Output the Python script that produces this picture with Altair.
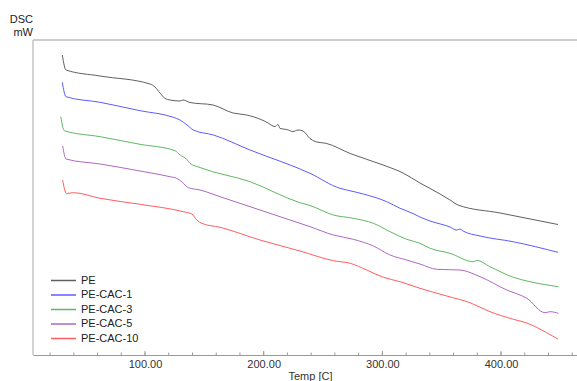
import altair as alt
import pandas as pd

# ---- data (Temp in C, DSC signal in arbitrary mW units) ----
series_names = ["PE", "PE-CAC-1", "PE-CAC-3", "PE-CAC-5", "PE-CAC-10"]
series_colors = ["#606060", "#5c5cff", "#60b860", "#b068c4", "#ff5e5e"]

pe_temp = [30.3, 33.4, 62.1, 104.2, 108.4, 112.6, 116.9, 121.1, 129.5, 132.0, 137.9, 157.3,
           174.2, 185.7, 198.6, 203.7, 206.2, 209.5, 212.1, 213.8, 219.4, 224.7, 228.9, 233.1,
           239.0, 243.3, 253.1, 272.9, 300.6, 317.4, 331.7, 348.6, 357.0, 363.8, 399.2, 448.0]
pe_dsc = [30.0, 28.5, 27.9, 27.1, 26.8, 26.2, 25.65, 25.5, 25.4, 25.5, 25.25, 25.0,
          24.2, 24.0, 23.5, 23.2, 23.0, 22.85, 23.05, 22.65, 22.55, 22.35, 22.5, 22.4,
          21.65, 21.35, 21.15, 20.15, 19.0, 18.2, 17.2, 16.1, 15.5, 15.0, 14.2, 13.05]

cac1_temp = [30.3, 33.4, 62.1, 95.8, 123.8, 129.5, 135.4, 140.7, 157.6, 188.5, 239.0, 264.3,
             270.0, 284.0, 303.7, 314.9, 325.8, 331.7, 340.2, 357.0, 362.7, 365.4, 368.0,
             382.3, 410.1, 448.0]
cac1_dsc = [27.27, 25.83, 25.27, 24.43, 23.77, 23.5, 23.0, 22.5, 22.0, 20.5, 18.17, 16.67,
            16.5, 16.1, 15.33, 14.67, 14.15, 13.8, 13.4, 12.8, 12.5, 12.6, 12.4,
            11.9, 11.33, 10.27]

cac3_temp = [29.0, 32.0, 62.1, 95.8, 125.3, 129.5, 135.1, 137.9, 146.3, 188.5, 230.6, 239.0,
             258.7, 275.5, 292.4, 306.5, 320.5, 331.7, 340.2, 357.0, 376.7, 379.8, 390.7,
             410.4, 424.4, 448.3]
cac3_dsc = [23.83, 22.43, 21.83, 21.07, 20.43, 20.0, 19.57, 19.17, 18.75, 17.33, 15.23, 14.95,
            14.0, 13.67, 13.17, 12.33, 11.57, 11.17, 10.67, 10.17, 9.33, 9.45, 8.83,
            7.77, 7.33, 6.83]

cac5_temp = [30.6, 33.4, 62.1, 95.8, 121.1, 126.7, 131.2, 136.5, 146.3, 163.2, 188.5, 222.2,
             230.6, 239.0, 258.7, 275.5, 292.4, 306.5, 320.5, 331.7, 345.8, 365.4, 382.3,
             404.8, 421.7, 437.1, 441.3, 448.3]
cac5_dsc = [20.9, 19.6, 19.1, 18.4, 17.83, 17.67, 17.3, 16.73, 16.5, 15.83, 14.83, 13.5,
            13.17, 12.83, 12.0, 11.57, 10.9, 10.0, 9.5, 9.1, 8.57, 8.5, 7.83,
            6.5, 5.67, 4.23, 4.33, 4.17]

cac10_temp = [30.6, 33.8, 39.6, 62.1, 95.8, 132.3, 139.4, 143.6, 147.8, 163.2, 196.9, 230.6,
              258.7, 272.9, 286.8, 300.8, 314.9, 331.7, 354.2, 373.8, 390.7, 410.4, 421.7,
              438.5, 447.8]
cac10_dsc = [17.5, 16.15, 16.23, 15.67, 15.07, 14.33, 14.1, 13.5, 13.17, 12.77, 11.5, 10.4,
             9.43, 9.17, 8.5, 7.77, 7.33, 6.67, 5.9, 5.23, 4.33, 3.57, 3.2,
             2.23, 1.6]

x_major_ticks = [100, 200, 300, 400]
x_minor_ticks = list(range(20, 461, 20))
x_domain = [5.6, 464.0]
y_domain = [0, 31.5]
y_title_lines = ["DSC", "mW"]

# ---- build table ----
rows = []
for name, temps, vals in zip(series_names,
                             [pe_temp, cac1_temp, cac3_temp, cac5_temp, cac10_temp],
                             [pe_dsc, cac1_dsc, cac3_dsc, cac5_dsc, cac10_dsc]):
    for t, v in zip(temps, vals):
        rows.append({"Series": name, "Temp": t, "DSC": v})
df = pd.DataFrame(rows)

W, H = 544, 315
FONT = "Liberation Sans"
xscale = alt.Scale(domain=x_domain, nice=False, zero=False)
yscale = alt.Scale(domain=y_domain, nice=False, zero=False)

x_axis = alt.Axis(values=x_major_ticks, format=".2f", title="Temp [C]",
                  ticks=False, grid=False, domainColor="#9a9a9a", domainWidth=1,
                  labelFont=FONT, labelFontSize=11, labelColor="#333333",
                  labelPadding=3, titleFont=FONT, titleFontSize=11,
                  titleFontWeight="normal", titleColor="#333333", titlePadding=1,
                  titleX=277)

lines = alt.Chart(df).mark_line(strokeWidth=1.0, interpolate="monotone").encode(
    x=alt.X("Temp:Q", scale=xscale, axis=x_axis),
    y=alt.Y("DSC:Q", scale=yscale, axis=None),
    color=alt.Color("Series:N",
                    scale=alt.Scale(domain=series_names, range=series_colors),
                    legend=alt.Legend(title=None, orient="none", legendX=17, legendY=235,
                                      symbolType="stroke", symbolSize=625,
                                      symbolStrokeWidth=1.5, clipHeight=11,
                                      rowPadding=2.5, padding=0, labelOffset=4,
                                      labelFont=FONT, labelFontSize=11,
                                      labelColor="#222222")),
)

minor = alt.Chart(pd.DataFrame({"Temp": x_minor_ticks})).mark_rule(
    color="#9a9a9a", strokeWidth=1).encode(
    x=alt.X("Temp:Q", scale=xscale, axis=x_axis),
    y=alt.value(H - 2.5), y2=alt.value(H))

major = alt.Chart(pd.DataFrame({"Temp": x_major_ticks})).mark_rule(
    color="#9a9a9a", strokeWidth=1).encode(
    x=alt.X("Temp:Q", scale=xscale, axis=x_axis),
    y=alt.value(H - 4), y2=alt.value(H))

one = alt.Data(values=[{}])
top_border = alt.Chart(one).mark_rule(color="#bdbdbd", strokeWidth=1.5).encode(
    x=alt.value(0), x2=alt.value(W), y=alt.value(0))
left_border = alt.Chart(one).mark_rule(color="#c4c4c4", strokeWidth=1.5).encode(
    x=alt.value(0), y=alt.value(0), y2=alt.value(H))

t1 = alt.Chart(one).mark_text(text=y_title_lines[0], align="right", baseline="middle",
                              font=FONT, fontSize=11, color="#222222").encode(
    x=alt.value(0), y=alt.value(-20))
t2 = alt.Chart(one).mark_text(text=y_title_lines[1], align="right", baseline="middle",
                              font=FONT, fontSize=11, color="#222222").encode(
    x=alt.value(0), y=alt.value(-7))

chart = alt.layer(lines, minor, major, left_border, top_border, t1, t2).properties(
    width=W, height=H,
    autosize=alt.AutoSizeParams(type="none"),
    padding={"left": 33, "top": 40, "right": 0, "bottom": 26},
    background="white",
).configure_view(stroke=None)

chart.save("out.html", embed_options={"renderer": "svg", "actions": False})
